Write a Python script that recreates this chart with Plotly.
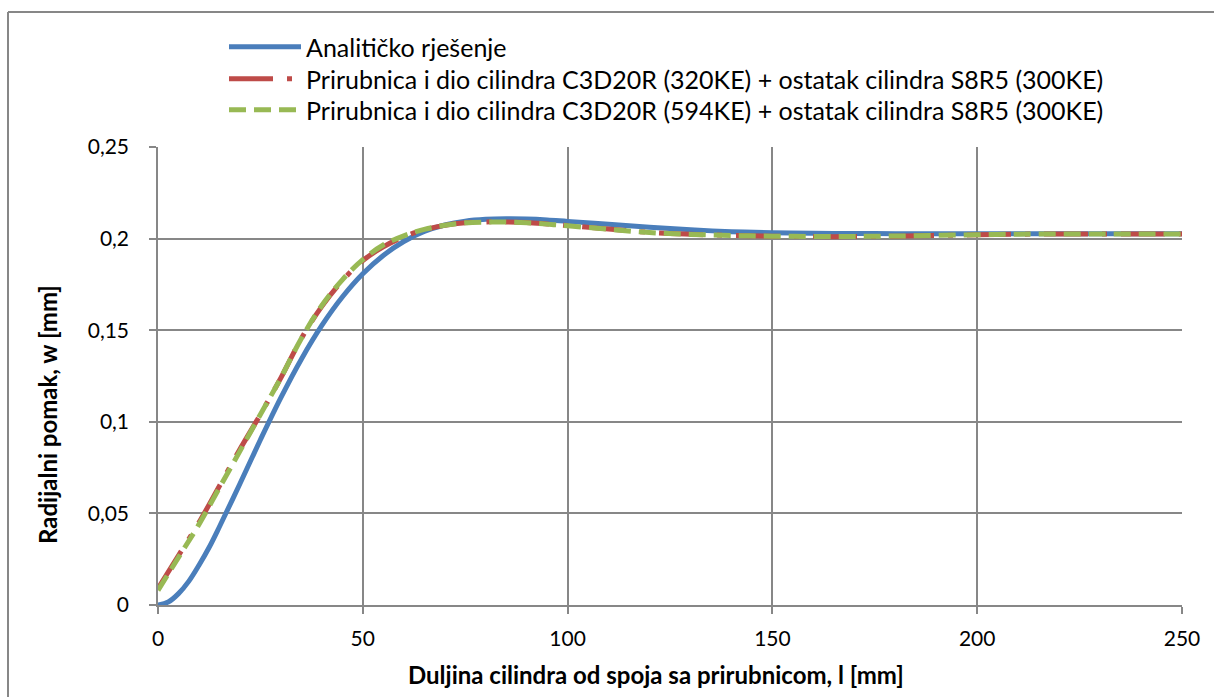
import plotly.graph_objects as go

# Blue: analytical solution
x_blue = [0, 2.5, 5, 7.5, 10, 12.5, 15, 20, 25, 30, 35, 40, 45, 50, 55, 60, 65, 70, 75, 80, 85,
          90, 95, 100, 110, 120, 130, 140, 150, 160, 170, 180, 190, 200, 210, 220, 230, 240, 250]
w_blue = [0, 0.0016, 0.0062, 0.0129, 0.0217, 0.0315, 0.0427, 0.0662, 0.0902, 0.1132, 0.1342,
          0.1526, 0.1681, 0.1808, 0.1908, 0.1984, 0.2039, 0.2074, 0.2095, 0.2105, 0.2108,
          0.2107, 0.2102, 0.2094, 0.2078, 0.2062, 0.2048, 0.2038, 0.2032, 0.2029, 0.2028,
          0.2027, 0.2027, 0.2027, 0.2027, 0.2027, 0.2027, 0.2027, 0.2027]

# Red and green: FE models
x_fe = [0, 5, 10, 15, 20, 25, 30, 35, 40, 45, 50, 55, 60, 65, 70, 75, 80, 85, 90, 95, 100,
        110, 120, 130, 140, 150, 160, 170, 180, 190, 200, 210, 220, 230, 240, 250]
w_red = [0.009, 0.027, 0.045, 0.065, 0.085, 0.104, 0.124, 0.1455, 0.163, 0.177, 0.188, 0.1955,
         0.201, 0.2048, 0.2072, 0.2086, 0.2091, 0.2091, 0.2088, 0.2080, 0.2071, 0.2052, 0.2034,
         0.2024, 0.2017, 0.2013, 0.2011, 0.2011, 0.2013, 0.2017, 0.2021, 0.2024, 0.2025, 0.2025,
         0.2025, 0.2025]
w_green = [0.008, 0.026, 0.044, 0.064, 0.084, 0.104, 0.124, 0.1455, 0.1635, 0.1775, 0.1885,
           0.1965, 0.2015, 0.205, 0.2073, 0.2086, 0.209, 0.209, 0.2087, 0.2079, 0.207, 0.2051,
           0.2033, 0.2023, 0.2017, 0.2013, 0.2012, 0.2012, 0.2014, 0.2018, 0.2021, 0.2024,
           0.2025, 0.2025, 0.2025, 0.2025]

names = ["Analitičko rješenje",
         "Prirubnica i dio cilindra C3D20R (320KE) + ostatak cilindra S8R5 (300KE)",
         "Prirubnica i dio cilindra C3D20R (594KE) + ostatak cilindra S8R5 (300KE)"]

x_ticks = [0, 50, 100, 150, 200, 250]
y_ticks = [0, 0.05, 0.1, 0.15, 0.2, 0.25]

FONT = "Lato"
GRID = "#878787"

fig = go.Figure()
fig.add_trace(go.Scatter(x=x_blue, y=w_blue, mode="lines", name=names[0], legend="legend",
                         line=dict(color="#4A7EBB", width=5, shape="spline")))
fig.add_trace(go.Scatter(x=x_fe, y=w_red, mode="lines", name=names[1], legend="legend2",
                         line=dict(color="#BE4B48", width=5, shape="spline",
                                   dash="44px,14px,5px,14px")))
fig.add_trace(go.Scatter(x=x_fe, y=w_green, mode="lines", name=names[2], legend="legend3",
                         line=dict(color="#98B954", width=5, shape="spline",
                                   dash="17px,8px")))

W, H = 1214, 697
L, R, T, B = 158, 1182, 147, 605
pw, ph = R - L, B - T


def px(x):
    return (x - L) / pw


def py(y):
    return (B - y) / ph


def leg(yc):
    return dict(x=px(224), y=py(yc), xanchor="left", yanchor="middle",
                font=dict(family=FONT, size=25, color="black"),
                itemwidth=72, bgcolor="rgba(0,0,0,0)")


fig.update_layout(
    width=W, height=H,
    margin=dict(l=L, r=W - R, t=T, b=H - B),
    paper_bgcolor="white", plot_bgcolor="white",
    separators=", ",
    font=dict(family=FONT, size=20, color="black"),
    showlegend=True,
    legend=leg(47), legend2=leg(79), legend3=leg(110),
    xaxis=dict(range=[0, 250], tickvals=x_ticks, showgrid=True, gridcolor=GRID, gridwidth=1.5,
               showline=True, linecolor=GRID, linewidth=1.5, ticks="outside", ticklen=7,
               tickcolor=GRID, tickwidth=1.5, zeroline=False, ticklabelstandoff=7,
               tickfont=dict(family=FONT, size=21, color="black")),
    yaxis=dict(range=[0, 0.25], tickvals=y_ticks, showgrid=True, gridcolor=GRID, gridwidth=1.5,
               showline=True, linecolor=GRID, linewidth=1.5, ticks="outside", ticklen=7,
               tickcolor=GRID, tickwidth=1.5, zeroline=False, ticklabelstandoff=16,
               tickfont=dict(family=FONT, size=21, color="black")),
    annotations=[
        dict(text="<b>Duljina cilindra od spoja sa prirubnicom, l [mm]</b>", xref="paper",
             yref="paper", x=px(656), y=py(674), xanchor="center", yanchor="middle",
             showarrow=False, font=dict(family=FONT, size=24, color="black")),
        dict(text="<b>Radijalni pomak, w [mm]</b>", xref="paper", yref="paper",
             x=px(47), y=py(415), xanchor="center", yanchor="middle", textangle=-90,
             showarrow=False, font=dict(family=FONT, size=24, color="black")),
    ],
    shapes=[
        dict(type="line", xref="paper", yref="paper", x0=px(8), y0=py(12), x1=px(1260),
             y1=py(12), line=dict(color="#878787", width=2), layer="below"),
        dict(type="line", xref="paper", yref="paper", x0=px(8), y0=py(12), x1=px(8),
             y1=py(760), line=dict(color="#878787", width=2), layer="below"),
    ],
)

fig.write_html("out.html", config={"displayModeBar": False},
               post_script="document.body.style.margin='0';"
                           "document.documentElement.style.overflow='hidden';")
